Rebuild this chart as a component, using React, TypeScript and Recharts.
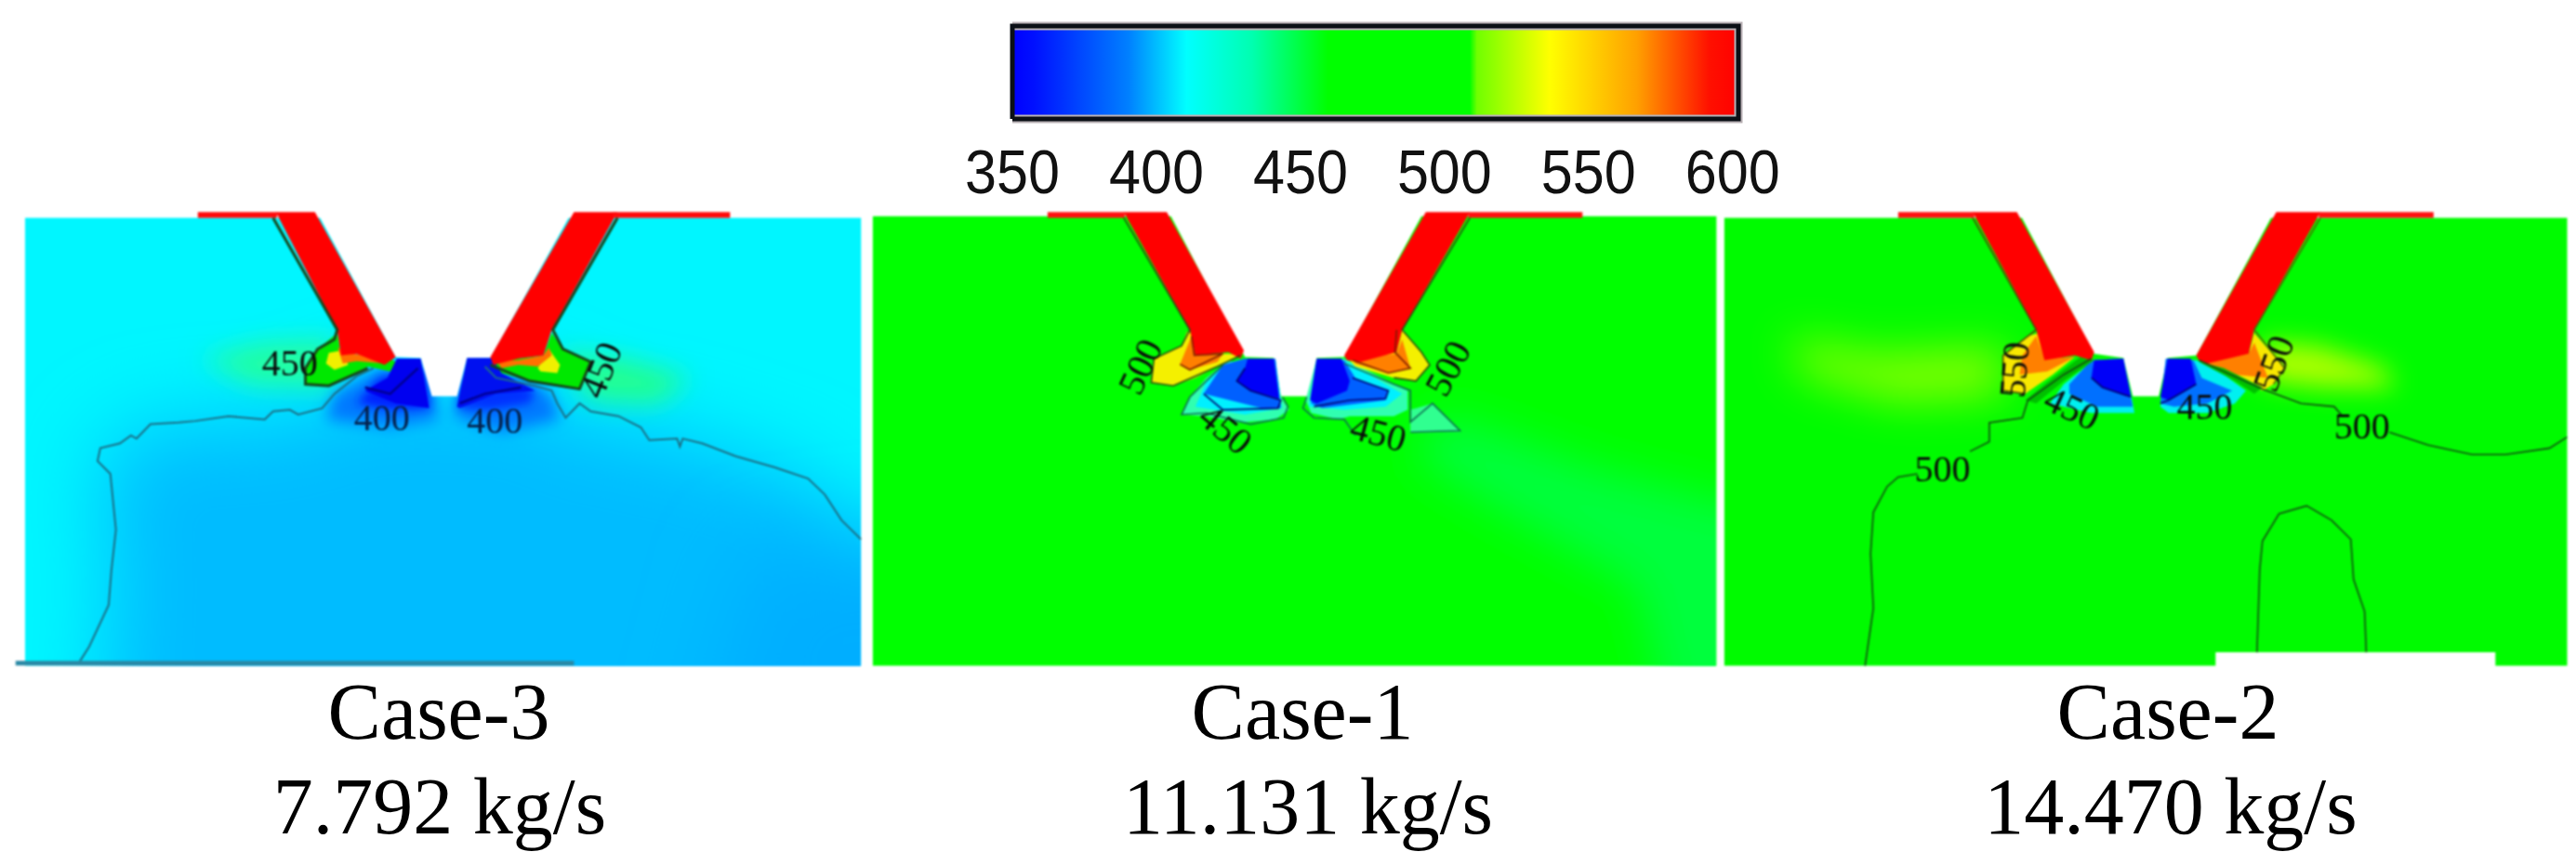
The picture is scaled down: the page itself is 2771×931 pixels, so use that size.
import { ReactElement } from "react"
import { Scatter, ScatterChart, XAxis, YAxis } from "recharts"

type Pt = [number, number]
type Mark = { x: number; y: number; text: string; angle: number }

const caseNames = ["Case-3", "Case-1", "Case-2"]
const flowRates = ["7.792 kg/s", "11.131 kg/s", "14.470 kg/s"]

const scaleTicks = [350, 400, 450, 500, 550, 600]
const scaleBar: Pt[] = [[350, 0], [602, 0], [602, 1], [350, 1]]
const scaleStops: [number, string][] = [
  [0, "#0000ff"],
  [0.03, "#0010ff"],
  [0.16, "#0080ff"],
  [0.24, "#00ffff"],
  [0.33, "#00ffb0"],
  [0.435, "#00ff00"],
  [0.63, "#00ff00"],
  [0.64, "#70ff00"],
  [0.74, "#ffff00"],
  [0.86, "#ffa000"],
  [0.96, "#ff1000"],
  [1, "#ff0000"],
]

// Case-3
const c3Frame: Pt[] = [[45, 100], [1545, 100], [1545, 1500], [45, 1500]]
const c3Notch: Pt[] = [[565, 70], [1030, 70], [880, 537], [838, 538], [820, 658], [775, 658], [755, 538], [710, 535]]
const c3Core: Pt[] = [[175, 860], [270, 745], [475, 730], [578, 695], [640, 620], [980, 640], [1015, 725], [1150, 755], [1260, 805], [1450, 915], [1545, 1105], [1545, 1800], [180, 1800], [200, 1200]]
const c3DeepRight: Pt[] = [[1350, 1150], [1800, 1050], [1800, 1800], [1250, 1800]]
const c3GlowLeft: Pt[] = [[360, 540], [470, 490], [600, 480], [600, 630], [450, 620]]
const c3GlowRight: Pt[] = [[1000, 520], [1120, 540], [1240, 600], [1180, 680], [1060, 670]]
const c3ColdLeftWide: Pt[] = [[585, 730], [600, 650], [680, 570], [770, 560], [785, 730], [700, 755]]
const c3ColdRightWide: Pt[] = [[815, 720], [830, 600], [900, 590], [985, 640], [1005, 730], [900, 770]]
const c3ColdLeftSoft: Pt[] = [[640, 680], [680, 600], [760, 570], [772, 695], [700, 700]]
const c3ColdRightSoft: Pt[] = [[822, 695], [835, 600], [900, 600], [960, 640], [950, 680], [880, 700]]
const c3ColdLeft: Pt[] = [[712, 540], [755, 540], [770, 695], [710, 680], [655, 640], [695, 600]]
const c3ColdRight: Pt[] = [[838, 538], [882, 538], [900, 585], [960, 640], [890, 650], [825, 695], [820, 690]]
const c3WallLeft: Pt[] = [[495, 82], [565, 82], [710, 535], [690, 560], [640, 525], [612, 530], [605, 450]]
const c3WallRight: Pt[] = [[1030, 82], [1108, 82], [990, 450], [975, 530], [930, 540], [885, 560], [880, 535]]
const c3LipLeft: Pt[] = [[355, 82], [497, 82], [497, 100], [355, 100]]
const c3LipRight: Pt[] = [[1100, 82], [1310, 82], [1310, 100], [1100, 100]]
const c3HotLeft: Pt[] = [[605, 460], [612, 530], [700, 540], [715, 555], [700, 580], [660, 565], [620, 600], [590, 625], [548, 620], [548, 570], [570, 510]]
const c3WarmLeft: Pt[] = [[590, 522], [612, 515], [625, 560], [600, 575], [585, 555]]
const c3FlameLeft: Pt[] = [[606, 505], [625, 525], [680, 530], [690, 555], [640, 548], [615, 555]]
const c3HotRight: Pt[] = [[885, 540], [930, 540], [975, 530], [990, 460], [1010, 510], [1060, 550], [1050, 600], [1040, 635], [1010, 630], [950, 610], [900, 585], [870, 555]]
const c3WarmRight: Pt[] = [[965, 570], [985, 510], [1005, 560], [1000, 585], [970, 580]]
const c3FlameRight: Pt[] = [[890, 545], [930, 545], [975, 530], [985, 505], [990, 530], [965, 565], [930, 560], [900, 570]]
const c3Contour400Left: Pt[] = [[140, 1495], [160, 1440], [195, 1310], [200, 1200], [208, 1075], [198, 900], [175, 860], [180, 820], [215, 805], [235, 780], [245, 790], [270, 745], [320, 740], [350, 735], [410, 720], [475, 730], [490, 705], [520, 700], [535, 715], [578, 695], [600, 650], [640, 595], [670, 570]]
const c3Contour400Right: Pt[] = [[870, 565], [890, 600], [960, 625], [990, 640], [1000, 680], [1015, 725], [1040, 680], [1060, 705], [1110, 720], [1150, 755], [1165, 795], [1215, 790], [1220, 815], [1225, 790], [1260, 805], [1320, 845], [1390, 880], [1450, 915], [1480, 965], [1510, 1045], [1545, 1105]]
const c3EdgeLeft: Pt[] = [[490, 100], [605, 450], [600, 480], [570, 510], [548, 570], [548, 620], [590, 625], [660, 570]]
const c3EdgeRight: Pt[] = [[1108, 100], [992, 450], [1010, 510], [1060, 550], [1040, 635], [950, 610], [880, 560]]
const c3InnerLeft: Pt[] = [[655, 630], [700, 650], [750, 570]]
const c3InnerRight: Pt[] = [[825, 680], [870, 650], [935, 630]]
const c3Ground: Pt[] = [[28, 1492], [1030, 1492]]
const c3Marks: Mark[] = [
  { x: 520, y: 552, text: "450", angle: 0 },
  { x: 1078, y: 575, text: "450", angle: -68 },
  { x: 685, y: 725, text: "400", angle: 0 },
  { x: 888, y: 733, text: "400", angle: 0 },
]

// Case-1
const c1Frame: Pt[] = [[15, 95], [1545, 95], [1545, 1500], [15, 1500]]
const c1Notch: Pt[] = [[548, 70], [1018, 70], [870, 535], [820, 538], [805, 658], [755, 658], [742, 538], [690, 535]]
const c1Drift: Pt[] = [[1040, 720], [1130, 760], [1320, 880], [1800, 1100], [1800, 1800], [1480, 1800], [1400, 1250], [1140, 1000], [1000, 850]]
const c1WallLeft: Pt[] = [[470, 82], [548, 82], [688, 515], [682, 540], [660, 520], [600, 530], [590, 450]]
const c1WallRight: Pt[] = [[1018, 82], [1098, 82], [975, 450], [965, 520], [900, 550], [875, 545], [870, 530]]
const c1LipLeft: Pt[] = [[332, 82], [472, 82], [472, 100], [332, 100]]
const c1LipRight: Pt[] = [[1095, 82], [1302, 82], [1302, 100], [1095, 100]]
const c1HotLeft: Pt[] = [[585, 455], [600, 470], [598, 530], [660, 525], [682, 530], [640, 565], [600, 600], [560, 625], [520, 615], [525, 540], [575, 500]]
const c1FlameLeft: Pt[] = [[593, 470], [600, 530], [650, 525], [640, 550], [590, 575], [572, 558]]
const c1HotRight: Pt[] = [[975, 450], [1010, 520], [1025, 560], [1000, 610], [960, 600], [890, 565], [880, 545], [965, 520]]
const c1FlameRight: Pt[] = [[975, 480], [990, 570], [950, 585], [890, 555], [885, 540], [965, 525]]
const c1TealLeft: Pt[] = [[660, 545], [680, 560], [690, 540], [745, 540], [755, 660], [770, 700], [745, 730], [680, 740], [620, 720], [575, 715], [590, 660], [620, 600]]
const c1CyanLeft: Pt[] = [[655, 555], [690, 540], [745, 540], [757, 695], [690, 715], [600, 690], [620, 610]]
const c1MidLeft: Pt[] = [[615, 650], [650, 560], [690, 540], [745, 540], [755, 695], [720, 695]]
const c1DeepLeft: Pt[] = [[695, 540], [742, 540], [752, 665], [700, 640], [675, 610], [690, 570]]
const c1TealRight: Pt[] = [[800, 670], [820, 540], [870, 540], [960, 620], [985, 640], [985, 700], [960, 720], [880, 720], [860, 730], [810, 710]]
const c1CyanRight: Pt[] = [[806, 690], [820, 540], [870, 545], [950, 625], [975, 650], [945, 690], [870, 700]]
const c1MidRight: Pt[] = [[810, 680], [820, 540], [870, 545], [890, 600], [950, 640], [945, 670], [830, 695]]
const c1DeepRight: Pt[] = [[808, 670], [820, 540], [865, 540], [880, 610], [875, 640], [820, 680]]
const c1LobeRight: Pt[] = [[990, 700], [1030, 680], [1080, 768], [990, 772]]
const c1EdgeLeft: Pt[] = [[470, 100], [590, 450], [575, 500], [525, 540], [520, 615], [560, 625], [640, 565], [682, 530]]
const c1EdgeRight: Pt[] = [[1098, 100], [975, 450], [1010, 520], [1025, 560], [1000, 610], [960, 600]]
const c1Contour450Left: Pt[] = [[650, 560], [590, 660], [575, 715], [620, 710], [700, 745], [760, 725], [768, 690], [758, 660]]
const c1Contour450Right: Pt[] = [[802, 660], [795, 695], [815, 725], [870, 730], [890, 780]]
const c1Contour450Lobe: Pt[] = [[870, 555], [960, 620], [990, 640], [990, 738], [1030, 680], [1080, 765], [990, 770]]
const c1InnerFlameLeft: Pt[] = [[593, 470], [598, 530], [650, 525], [590, 575], [572, 558]]
const c1InnerFlameRight: Pt[] = [[965, 450], [962, 520], [990, 570], [950, 585], [885, 545]]
const c1InnerColdLeft: Pt[] = [[615, 650], [650, 700], [750, 695], [755, 670], [700, 640], [675, 610], [690, 570]]
const c1InnerColdRight: Pt[] = [[815, 690], [880, 670], [945, 665], [950, 640], [885, 600]]
const c1Marks: Mark[] = [
  { x: 500, y: 565, text: "500", angle: -65 },
  { x: 1058, y: 570, text: "500", angle: -62 },
  { x: 655, y: 760, text: "450", angle: 40 },
  { x: 932, y: 772, text: "450", angle: 15 },
]

// Case-2
const c2Frame: Pt[] = [[25, 100], [1552, 100], [1552, 1500], [25, 1500]]
const c2Notch: Pt[] = [[555, 70], [1025, 70], [880, 530], [828, 538], [812, 658], [765, 658], [748, 538], [695, 525]]
const c2Erased: Pt[] = [[915, 1458], [1422, 1458], [1422, 1520], [915, 1520]]
const c2GlowLeft: Pt[] = [[140, 480], [300, 530], [530, 510], [530, 650], [340, 670], [170, 590]]
const c2GlowRight: Pt[] = [[1000, 490], [1100, 500], [1220, 570], [1240, 630], [1110, 630], [1000, 610]]
const c2WallLeft: Pt[] = [[475, 82], [555, 82], [695, 520], [690, 545], [660, 530], [605, 545], [590, 450]]
const c2WallRight: Pt[] = [[1025, 82], [1105, 82], [985, 450], [975, 525], [900, 555], [885, 545], [880, 530]]
const c2LipLeft: Pt[] = [[340, 82], [478, 82], [478, 100], [340, 100]]
const c2LipRight: Pt[] = [[1102, 82], [1310, 82], [1310, 100], [1102, 100]]
const c2HotLeft: Pt[] = [[575, 470], [595, 460], [605, 540], [660, 535], [620, 590], [570, 650], [530, 640], [530, 530]]
const c2FlameLeft: Pt[] = [[590, 470], [605, 540], [660, 535], [610, 580], [560, 590], [565, 530]]
const c2BandLeft: Pt[] = [[670, 535], [695, 545], [640, 610], [590, 680], [570, 670], [620, 600]]
const c2HotRight: Pt[] = [[985, 460], [1040, 570], [1020, 620], [1000, 640], [930, 580], [885, 545], [975, 525]]
const c2FlameRight: Pt[] = [[985, 490], [1010, 600], [950, 590], [890, 555], [975, 525]]
const c2BandRight: Pt[] = [[885, 550], [930, 570], [1000, 630], [985, 650], [950, 610]]
const c2CyanLeft: Pt[] = [[695, 545], [748, 540], [765, 680], [768, 710], [690, 710], [615, 680], [640, 620]]
const c2MidLeft: Pt[] = [[690, 545], [748, 540], [765, 690], [700, 690], [650, 650], [650, 620]]
const c2DeepLeft: Pt[] = [[695, 545], [748, 540], [762, 660], [710, 630], [690, 600]]
const c2CyanRight: Pt[] = [[815, 690], [825, 540], [880, 545], [930, 590], [970, 640], [950, 680], [900, 710], [830, 710]]
const c2MidRight: Pt[] = [[815, 680], [825, 540], [875, 545], [890, 600], [945, 640], [900, 680], [840, 690]]
const c2DeepRight: Pt[] = [[815, 660], [828, 540], [870, 540], [880, 620], [830, 670]]
const c2Contour500Left: Pt[] = [[280, 1500], [295, 1320], [290, 1150], [295, 1020], [320, 940], [340, 910], [375, 900]]
const c2Contour500Mid: Pt[] = [[470, 830], [505, 800], [505, 740], [565, 725], [575, 670], [640, 590], [690, 540]]
const c2Contour500Right: Pt[] = [[885, 545], [1000, 635], [1070, 680], [1130, 690], [1145, 720]]
const c2Contour500Far: Pt[] = [[1230, 770], [1300, 810], [1380, 840], [1440, 840], [1520, 820], [1552, 785]]
const c2Arch: Pt[] = [[990, 1458], [995, 1200], [1000, 1110], [1030, 1025], [1080, 1000], [1125, 1045], [1160, 1105], [1165, 1230], [1185, 1330], [1188, 1458]]
const c2EdgeLeft: Pt[] = [[475, 100], [590, 450], [575, 470], [530, 530], [530, 640], [570, 650]]
const c2EdgeRight: Pt[] = [[1105, 100], [985, 450], [1040, 570], [1020, 620]]
const c2InnerColdLeft: Pt[] = [[690, 600], [710, 630], [762, 660]]
const c2InnerColdRight: Pt[] = [[880, 620], [830, 670], [815, 680]]
const c2Marks: Mark[] = [
  { x: 550, y: 575, text: "550", angle: -85 },
  { x: 1020, y: 555, text: "550", angle: -70 },
  { x: 655, y: 695, text: "450", angle: 25 },
  { x: 895, y: 690, text: "450", angle: 0 },
  { x: 420, y: 885, text: "500", angle: 0 },
  { x: 1180, y: 750, text: "500", angle: 0 },
]

const toPoints = (pts: Pt[]) => pts.map(([x, y]) => ({ x, y }))
const NoMark = () => null

// a filled shape is a scatter series whose joining line carries the fill
const patchIn = (clipId: string) => (id: string, pts: Pt[], fill: string, soft?: number) => (
  <Scatter
    key={id}
    data={toPoints(pts)}
    isAnimationActive={false}
    shape={NoMark}
    line={{
      fill,
      stroke: "none",
      filter: soft ? `url(#soft${soft})` : undefined,
      clipPath: soft ? `url(#${clipId})` : undefined,
    }}
  />
)

const contour = (id: string, pts: Pt[], stroke: string, width = 1.6) => (
  <Scatter
    key={id}
    data={toPoints(pts)}
    isAnimationActive={false}
    shape={NoMark}
    line={{ fill: "none", stroke, strokeWidth: width }}
  />
)

const MarkText = (props: any) => {
  const { cx, cy, payload } = props
  return (
    <text
      x={cx}
      y={cy}
      textAnchor="middle"
      dominantBaseline="central"
      fontFamily="Liberation Serif"
      fontSize={40}
      fill={payload.text === "400" ? "#05204a" : "#0a0a0a"}
      transform={`rotate(${payload.angle} ${cx} ${cy})`}
    >
      {payload.text}
    </text>
  )
}

function Panel(props: { id: string; left: number; width: number; clip: number[]; children: ReactElement[] }) {
  const { id, left, width, clip, children } = props
  return (
    <div style={{ position: "absolute", left, top: 200, width, height: 540, filter: "blur(0.8px)" }}>
      <ScatterChart width={width} height={540} margin={{ top: 0, right: 0, bottom: 0, left: 0 }}>
        <defs>
          <clipPath id={id}>
            <rect x={clip[0]} y={clip[1]} width={clip[2]} height={clip[3]} />
          </clipPath>
          {[5, 8, 14, 24, 45].map((s) => (
            <filter key={s} id={`soft${s}`} x="-100%" y="-100%" width="300%" height="300%">
              <feGaussianBlur stdDeviation={s} />
            </filter>
          ))}
        </defs>
        <XAxis type="number" dataKey="x" domain={[0, 1568]} hide allowDataOverflow />
        <YAxis type="number" dataKey="y" domain={[0, 1568]} reversed hide allowDataOverflow />
        {children}
      </ScatterChart>
    </div>
  )
}

function ColourScale() {
  return (
    <div style={{ position: "absolute", left: 1000, top: 0, filter: "blur(0.6px)" }}>
      <ScatterChart width={960} height={230} margin={{ top: 28, right: 90, bottom: 0, left: 89 }}>
        <defs>
          <linearGradient id="scale" x1="0" y1="0" x2="1" y2="0">
            {scaleStops.map(([at, color]) => (
              <stop key={at} offset={at} stopColor={color} />
            ))}
          </linearGradient>
        </defs>
        <XAxis
          type="number"
          dataKey="x"
          domain={[350, 602]}
          ticks={scaleTicks}
          height={102}
          interval={0}
          axisLine={false}
          tickLine={false}
          tick={(p: any) => (
            <text
              x={p.x}
              y={208}
              textAnchor="middle"
              fontFamily="Liberation Sans"
              fontSize={67}
              fill="#111"
              textLength={102}
              lengthAdjust="spacingAndGlyphs"
            >
              {p.payload.value}
            </text>
          )}
        />
        <YAxis type="number" dataKey="y" domain={[0, 1]} hide />
        <Scatter
          data={toPoints(scaleBar)}
          isAnimationActive={false}
          shape={NoMark}
          line={{ fill: "url(#scale)", stroke: "#b8b0b4", strokeWidth: 9, strokeLinejoin: "miter" }}
        />
        <Scatter
          data={toPoints([...scaleBar, scaleBar[0]])}
          isAnimationActive={false}
          shape={NoMark}
          line={{ fill: "none", stroke: "#0b1016", strokeWidth: 5 }}
        />
      </ScatterChart>
    </div>
  )
}

function Captions() {
  const base = { position: "absolute", width: 600, textAlign: "center", fontFamily: "Liberation Serif", fontSize: 86, lineHeight: "86px", color: "#000" } as const
  const nameCentres = [472, 1401, 2332]
  const rateCentres = [473, 1407, 2335]
  return (
    <>
      {caseNames.map((name, i) => (
        <div key={name} style={{ ...base, left: nameCentres[i] - 300, top: 723 }}>{name}</div>
      ))}
      {flowRates.map((rate, i) => (
        <div key={rate} style={{ ...base, left: rateCentres[i] - 300, top: 825 }}>{rate}</div>
      ))}
    </>
  )
}

const labels = (id: string, marks: Mark[]) => (
  <Scatter key={id} data={marks} isAnimationActive={false} shape={MarkText} />
)

const patch3 = patchIn("clipCase3")
const patch1 = patchIn("clipCase1")
const patch2 = patchIn("clipCase2")

export default function App() {
  return (
    <div style={{ position: "absolute", left: 0, top: 0, width: 2771, height: 931, background: "#fff", overflow: "hidden" }}>
      <ColourScale />

      <Panel id="clipCase3" left={0} width={940} clip={[27, 34, 899, 483]}>
        {[
          patch3("frame", c3Frame, "#00f6ff"),
          patch3("core", c3Core, "#00bcff", 45),
          patch3("deep", c3DeepRight, "#00aeff", 45),
          patch3("glowL", c3GlowLeft, "#20ffa0", 14),
          patch3("glowR", c3GlowRight, "#20ff90", 14),
          patch3("wideL", c3ColdLeftWide, "#0078ff", 8),
          patch3("wideR", c3ColdRightWide, "#0078ff", 8),
          patch3("softL", c3ColdLeftSoft, "#0020ff", 5),
          patch3("softR", c3ColdRightSoft, "#0030ff", 5),
          patch3("notch", c3Notch, "#ffffff"),
          patch3("hotL", c3HotLeft, "#00e800"),
          patch3("warmL", c3WarmLeft, "#f0f000"),
          patch3("flameL", c3FlameLeft, "#ff7000"),
          patch3("hotR", c3HotRight, "#00e800"),
          patch3("warmR", c3WarmRight, "#f0f000"),
          patch3("flameR", c3FlameRight, "#ff7000"),
          patch3("coldL", c3ColdLeft, "#0000f0"),
          patch3("coldR", c3ColdRight, "#0010f0"),
          patch3("wallL", c3WallLeft, "#ff0000"),
          patch3("wallR", c3WallRight, "#ff0000"),
          patch3("lipL", c3LipLeft, "#ff0a0a"),
          patch3("lipR", c3LipRight, "#ff0a0a"),
          contour("c400L", c3Contour400Left, "#1c6e85", 2),
          contour("c400R", c3Contour400Right, "#1c6e85", 2),
          contour("edgeL", c3EdgeLeft, "#16451a", 3),
          contour("edgeR", c3EdgeRight, "#16451a", 3),
          contour("innerL", c3InnerLeft, "#000090", 2.4),
          contour("innerR", c3InnerRight, "#000090", 2.4),
          contour("ground", c3Ground, "#2a88a4", 5),
          labels("marks", c3Marks),
        ]}
      </Panel>

      <Panel id="clipCase1" left={930} width={930} clip={[9, 33, 907, 484]}>
        {[
          patch1("frame", c1Frame, "#00ff00"),
          patch1("drift", c1Drift, "#00ff3c", 24),
          patch1("notch", c1Notch, "#ffffff"),
          patch1("lobe", c1LobeRight, "#30ff90"),
          patch1("tealL", c1TealLeft, "#30ffb0"),
          patch1("cyanL", c1CyanLeft, "#00f0ff"),
          patch1("midL", c1MidLeft, "#0060ff"),
          patch1("deepL", c1DeepLeft, "#0000f8"),
          patch1("tealR", c1TealRight, "#30ffb0"),
          patch1("cyanR", c1CyanRight, "#00f0ff"),
          patch1("midR", c1MidRight, "#0060ff"),
          patch1("deepR", c1DeepRight, "#0000f8"),
          patch1("hotL", c1HotLeft, "#f4f000"),
          patch1("flameL", c1FlameLeft, "#ff8000"),
          patch1("hotR", c1HotRight, "#f4f000"),
          patch1("flameR", c1FlameRight, "#ff8000"),
          patch1("wallL", c1WallLeft, "#ff0000"),
          patch1("wallR", c1WallRight, "#ff0000"),
          patch1("lipL", c1LipLeft, "#ff1010"),
          patch1("lipR", c1LipRight, "#ff1010"),
          contour("edgeL", c1EdgeLeft, "#2a4a10"),
          contour("edgeR", c1EdgeRight, "#2a4a10"),
          contour("c450L", c1Contour450Left, "#0f6a50"),
          contour("c450R", c1Contour450Right, "#0f6a50"),
          contour("lobeLine", c1Contour450Lobe, "#0f6a50"),
          contour("innerHotL", c1InnerFlameLeft, "#7a1a00"),
          contour("innerHotR", c1InnerFlameRight, "#7a1a00"),
          contour("innerColdL", c1InnerColdLeft, "#000070"),
          contour("innerColdR", c1InnerColdRight, "#000070"),
          labels("marks", c1Marks),
        ]}
      </Panel>

      <Panel id="clipCase2" left={1840} width={931} clip={[15, 34, 907, 483]}>
        {[
          patch2("frame", c2Frame, "#00fb00"),
          patch2("glowL", c2GlowLeft, "#90ff00", 24),
          patch2("glowR", c2GlowRight, "#b0ff00", 14),
          patch2("notch", c2Notch, "#ffffff"),
          patch2("cyanL", c2CyanLeft, "#00f0f0"),
          patch2("midL", c2MidLeft, "#0070ff"),
          patch2("deepL", c2DeepLeft, "#0000f8"),
          patch2("cyanR", c2CyanRight, "#00f0f0"),
          patch2("midR", c2MidRight, "#0070ff"),
          patch2("deepR", c2DeepRight, "#0000f8"),
          patch2("hotL", c2HotLeft, "#f8e800"),
          patch2("flameL", c2FlameLeft, "#ff8000"),
          patch2("bandL", c2BandLeft, "#00c000"),
          patch2("hotR", c2HotRight, "#f8e800"),
          patch2("flameR", c2FlameRight, "#ff8000"),
          patch2("bandR", c2BandRight, "#00c000"),
          patch2("wallL", c2WallLeft, "#ff0000"),
          patch2("wallR", c2WallRight, "#ff0000"),
          patch2("lipL", c2LipLeft, "#ff1010"),
          patch2("lipR", c2LipRight, "#ff1010"),
          patch2("erased", c2Erased, "#ffffff"),
          contour("c500L", c2Contour500Left, "#124a12"),
          contour("c500M", c2Contour500Mid, "#124a12"),
          contour("c500R", c2Contour500Right, "#124a12"),
          contour("c500F", c2Contour500Far, "#124a12"),
          contour("arch", c2Arch, "#124a12"),
          contour("edgeL", c2EdgeLeft, "#4a4a00"),
          contour("edgeR", c2EdgeRight, "#4a6a00"),
          contour("innerColdL", c2InnerColdLeft, "#000070"),
          contour("innerColdR", c2InnerColdRight, "#000070"),
          labels("marks", c2Marks),
        ]}
      </Panel>

      <Captions />
    </div>
  )
}
